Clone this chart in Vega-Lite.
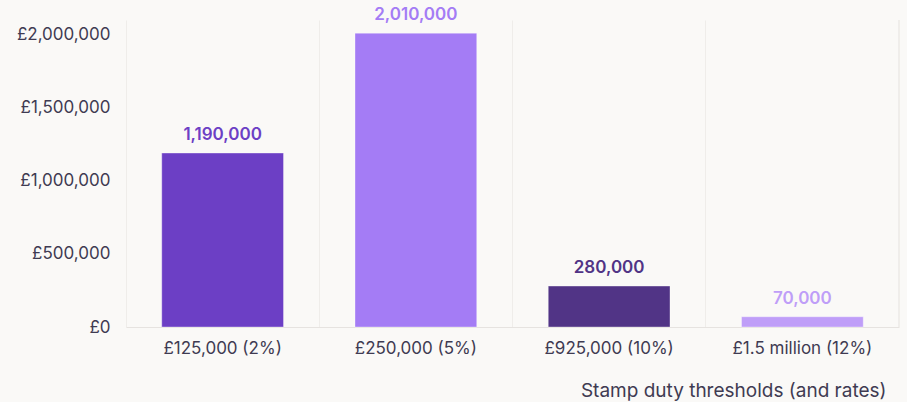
{
  "$schema": "https://vega.github.io/schema/vega-lite/v6.json",
  "autosize": "none",
  "width": 773,
  "height": 307,
  "padding": {"left": 126, "top": 20, "right": 8, "bottom": 75},
  "background": "#faf9f7",
  "config": {
    "view": {"stroke": null},
    "font": "Inter",
    "axis": {"labelFont": "Inter", "titleFont": "Inter"}
  },
  "data": {
    "values": [
      {"threshold": "£125,000 (2%)", "transactions": 1190000},
      {"threshold": "£250,000 (5%)", "transactions": 2010000},
      {"threshold": "£925,000 (10%)", "transactions": 280000},
      {"threshold": "£1.5 million (12%)", "transactions": 70000}
    ]
  },
  "encoding": {
    "x": {
      "field": "threshold",
      "type": "nominal",
      "sort": null,
      "scale": {
        "domain": ["£125,000 (2%)", "£250,000 (5%)", "£925,000 (10%)", "£1.5 million (12%)"],
        "paddingInner": 0,
        "paddingOuter": 0
      },
      "axis": {
        "title": "Stamp duty thresholds (and rates)",
        "titleFontSize": 19,
        "titleFontWeight": "normal",
        "titleColor": "#3f3b52",
        "titleAlign": "right",
        "titleAnchor": "end",
        "titleX": 760,
        "titleY": 69,
        "titleBaseline": "alphabetic",
        "labelAngle": 0,
        "labelFontSize": 17,
        "labelColor": "#3f3b52",
        "labelPadding": 13,
        "ticks": false,
        "domainColor": "#e6e3e0",
        "grid": true,
        "gridColor": "#efedea",
        "bandPosition": 0
      }
    },
    "y": {
      "field": "transactions",
      "type": "quantitative",
      "scale": {"domain": [0, 2100000], "nice": false},
      "axis": {
        "title": null,
        "values": [0, 500000, 1000000, 1500000, 2000000],
        "labelExpr": "'£' + format(datum.value, ',')",
        "labelFontSize": 17,
        "labelColor": "#3f3b52",
        "labelPadding": 16,
        "ticks": false,
        "domain": false,
        "grid": false
      }
    },
    "color": {
      "field": "threshold",
      "type": "nominal",
      "sort": null,
      "scale": {
        "domain": ["£125,000 (2%)", "£250,000 (5%)", "£925,000 (10%)", "£1.5 million (12%)"],
        "range": ["#6c3fc5", "#a47cf5", "#513486", "#bf9ef8"]
      },
      "legend": null
    }
  },
  "layer": [
    {
      "mark": {"type": "rule", "color": "#efedea", "strokeWidth": 1},
      "encoding": {
        "x": {"datum": "£1.5 million (12%)", "type": "nominal", "bandPosition": 1},
        "color": {"value": "#efedea"},
        "y": {"value": 0},
        "y2": {"value": 307}
      }
    },
    {
      "mark": {"type": "bar", "width": {"band": 0.63}, "stroke": "#ffffff", "strokeOpacity": 0.35, "strokeWidth": 1}
    },
    {
      "mark": {"type": "text", "baseline": "alphabetic", "dy": -13, "fontSize": 17, "fontWeight": 600},
      "encoding": {
        "text": {"field": "transactions", "type": "quantitative", "format": ","}
      }
    }
  ]
}
